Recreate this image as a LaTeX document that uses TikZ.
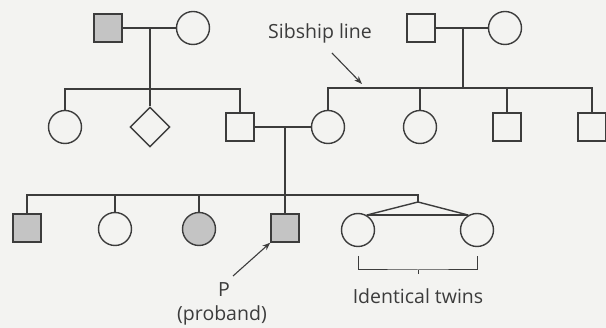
\documentclass[tikz,border=0pt]{standalone}
\usepackage{fontspec}
\setmainfont{Open Sans}
\usetikzlibrary{shapes.geometric,arrows.meta}
\definecolor{bg}{HTML}{F3F3F1}
\definecolor{ink}{HTML}{3C3C3C}
\definecolor{aff}{HTML}{C4C4C4}
\begin{document}
\begin{tikzpicture}[x=1pt,y=-1pt,
  line width=1.4pt, draw=ink,
  male/.style={draw=ink,rectangle,minimum size=28pt,inner sep=0pt,fill=bg},
  female/.style={draw=ink,circle,minimum size=33pt,inner sep=0pt,fill=bg},
  unk/.style={draw=ink,diamond,minimum width=40pt,minimum height=40pt,inner sep=0pt,fill=bg},
  affected/.style={fill=aff},
  lbl/.style={text=ink,font=\fontsize{19.5}{22}\selectfont,inner sep=0pt},
  arr/.style={-{Stealth[length=8pt,width=6pt]},line width=1.1pt,draw=ink}]
\fill[bg] (0,0) rectangle (606,328);
\useasboundingbox (0,0) rectangle (606,328);
% Generation I
\node[male,affected] (A) at (108,28) {};
\node[female] (B) at (193,28) {};
\node[male] (C) at (421,28) {};
\node[female] (D) at (505,28) {};
% Generation II
\node[female] (E) at (65,127) {};
\node[unk] (F) at (150,127) {};
\node[male] (G) at (240,127) {};
\node[female] (H) at (328,127) {};
\node[female] (I) at (420,127) {};
\node[male] (J) at (507,127) {};
\node[male] (K) at (592,127) {};
% Generation III
\node[male,affected] (L) at (27,228) {};
\node[female] (M) at (115,229) {};
\node[female,affected] (N) at (199,229) {};
\node[male,affected] (O) at (285,228) {};
\node[female] (T1) at (358,230) {};
\node[female] (T2) at (477,230) {};
% coordinates
\coordinate (m1) at (150,28);
\coordinate (s1) at (150,89);
\coordinate (m2) at (463,28);
\coordinate (s2) at (463,88);
\coordinate (m3) at (285,127);
\coordinate (s3) at (285,195);
\coordinate (tw) at (418,195);
\coordinate (apex) at (418,202);
% Gen I couples
\draw (A) -- (B);
\draw (m1) -- (s1);
\draw (C) -- (D);
\draw (m2) -- (s2);
% sibship 1
\draw (E.north) |- (G.north |- s1) -- (G.north);
\draw (F.north) -- (F.north |- s1);
% sibship 2
\draw (H.north) |- (K.north |- s2) -- (K.north);
\draw (I.north) -- (I.north |- s2);
\draw (J.north) -- (J.north |- s2);
% Gen II couple
\draw (G) -- (H);
\draw (m3) -- (O.north);
% sibship 3
\draw (L.north) |- (tw) -- (apex);
\draw (M.north) -- (M.north |- s3);
\draw (N.north) -- (N.north |- s3);
% twins
\draw (T1.60) -- (apex) -- (T2.120);
\draw (T1.60) -- (T2.120);
% bracket
\coordinate (b1) at (358,256);
\coordinate (b2) at (477,256);
\coordinate (bm) at (418,270);
\draw[line width=1pt] (b1) |- (bm) -| (b2);
\draw[line width=1pt] (bm) -- ++(0,4);
% labels
\node[lbl] (sib) at (320,33) {Sibship line};
\node[lbl] (tw lbl) at (418,296) {Identical twins};
\node[lbl] (P) at (224,290) {P};
\node[lbl] (prob) at (222,315) {(proband)};
% arrows
\coordinate (sa) at (332,53);
\coordinate (sb) at (362,84);
\draw[arr] (sa) -- (sb);
\coordinate (pa) at (233,276);
\draw[arr] (pa) -- (O.south west);
\end{tikzpicture}
\end{document}
